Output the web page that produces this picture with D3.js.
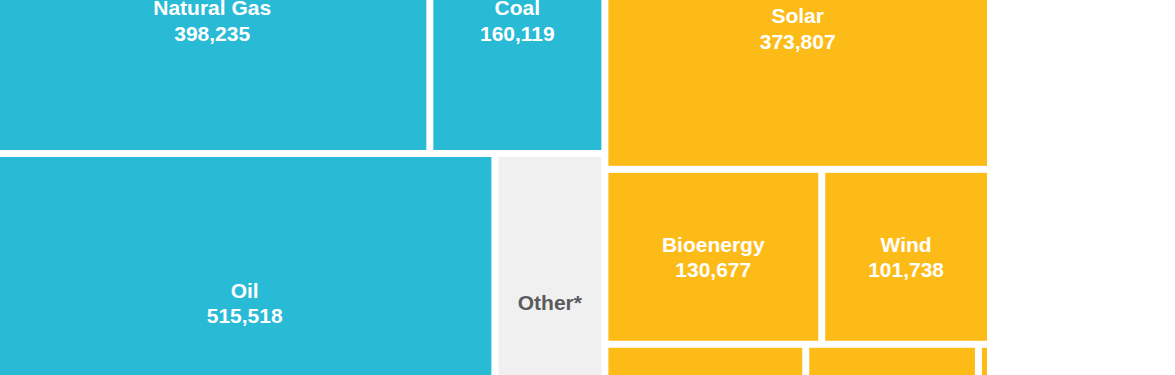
<!DOCTYPE html>
<html>
<head>
<meta charset="utf-8">
<script src="https://cdn.jsdelivr.net/npm/d3@7"></script>
<style>
  html, body { margin: 0; padding: 0; background: #ffffff; overflow: hidden; }
  svg { display: block; }
</style>
</head>
<body>
<svg id="chart" width="1175" height="375"></svg>
<script>
// ---- data ----
const groupNames = ["Fossil", "Clean"];
const fossilRows = [["Natural Gas", "Coal"], ["Oil", "Other*"]];
const fossilValues = [[398235, 160119], [515518, 113300]];
const cleanRows = [["Solar"], ["Bioenergy", "Wind"], ["Hydropower", "Nuclear", "Geothermal"]];
const cleanValues = [[373807], [130677, 101738], [74900, 64400, 4500]];
const namesWithoutValue = ["Other*"];

// ---- styles ----
const groupColors = { "Fossil": "#29bad6", "Clean": "#fdbb18" };
const otherColor = "#f0f0f0";
const svgW = 1175, svgH = 375;
const frame = { left: -2, top: -108.5, width: 989, height: 557.5 };

function buildGroup(name, rows, values) {
  return {
    name,
    children: rows.map((r, i) => ({
      name: name + "-row" + i,
      children: r.map((n, j) => ({ name: n, group: name, value: values[i][j] }))
    }))
  };
}

const data = {
  name: "root",
  children: [
    buildGroup(groupNames[0], fossilRows, fossilValues),
    buildGroup(groupNames[1], cleanRows, cleanValues)
  ]
};

const root = d3.hierarchy(data).sum(d => d.value || 0);

d3.treemap()
  .size([frame.width, frame.height])
  .paddingInner(7)
  .tile((node, x0, y0, x1, y1) => {
    (node.depth % 2 === 0 ? d3.treemapDice : d3.treemapSlice)(node, x0, y0, x1, y1);
  })(root);

const svg = d3.select("#chart");
const g = svg.append("g").attr("transform", `translate(${frame.left},${frame.top})`);

const leaves = root.leaves();
const cell = g.selectAll("g.cell").data(leaves).join("g").attr("class", "cell");

cell.append("rect")
  .attr("x", d => d.x0)
  .attr("y", d => d.y0)
  .attr("width", d => Math.max(0, d.x1 - d.x0))
  .attr("height", d => Math.max(0, d.y1 - d.y0))
  .attr("fill", d => namesWithoutValue.includes(d.data.name) ? otherColor : groupColors[d.data.group]);

const fmt = d3.format(",");
// label only cells that are large enough and whose label block falls inside the visible frame
const labelled = cell.filter(d => {
  const cy = (d.y0 + d.y1) / 2 + frame.top;
  return (d.x1 - d.x0) > 70 && (d.y1 - d.y0) > 40 && cy - 21 < svgH && cy + 21 > 0;
});

labelled.each(function (d) {
  const cx = (d.x0 + d.x1) / 2, cy = (d.y0 + d.y1) / 2;
  const sel = d3.select(this);
  const isOther = namesWithoutValue.includes(d.data.name);
  const t = sel.append("text")
    .attr("text-anchor", "middle")
    .attr("font-family", "'Liberation Sans', Arial, Helvetica, sans-serif")
    .attr("font-weight", "bold")
    .attr("font-size", 21)
    .attr("fill", isOther ? "#5b5b5b" : "#ffffff");
  if (isOther) {
    t.append("tspan").attr("x", cx).attr("y", cy + 7).text(d.data.name);
  } else {
    t.append("tspan").attr("x", cx).attr("y", cy - 5.3).text(d.data.name);
    t.append("tspan").attr("x", cx).attr("y", cy + 20.2).text(fmt(d.data.value));
  }
});
</script>
</body>
</html>
